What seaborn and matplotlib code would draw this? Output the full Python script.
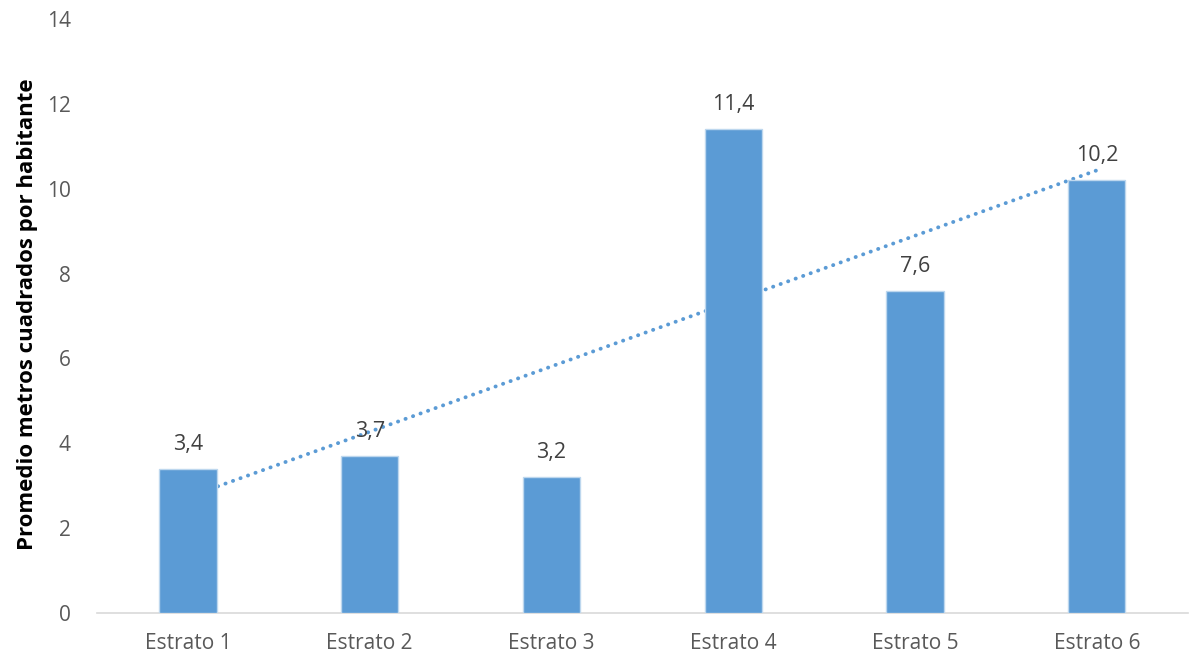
import numpy as np
import pandas as pd
import matplotlib
matplotlib.use("Agg")
import matplotlib.pyplot as plt
import seaborn as sns

categories = ["Estrato 1", "Estrato 2", "Estrato 3", "Estrato 4", "Estrato 5", "Estrato 6"]
values = [3.4, 3.7, 3.2, 11.4, 7.6, 10.2]
y_ticks = [0, 2, 4, 6, 8, 10, 12, 14]
y_label = "Promedio metros cuadrados por habitante"

sns.set_theme(style="white")
plt.rcParams["font.family"] = ["Open Sans", "DejaVu Sans"]

df = pd.DataFrame({"cat": categories, "val": values})

fig = plt.figure(figsize=(11.92, 6.55), dpi=100)
ax = fig.add_axes([0.0814, 0.064, 0.915, 0.907])

bar_color = "#5B9BD5"
sns.barplot(data=df, x="cat", y="val", color=bar_color, width=0.315,
            edgecolor="#BDD7EE", linewidth=1.0, saturation=1, ax=ax, zorder=3)

# linear trendline (least squares)
xs = np.arange(1, len(values) + 1)
coef = np.polyfit(xs, values, 1)
trend = np.polyval(coef, xs)
ax.plot(xs - 1, trend, linestyle=(0, (0.05, 2.0)), color=bar_color, linewidth=2.8,
        dash_capstyle="round", solid_capstyle="round", zorder=2)

for i, v in enumerate(values):
    ax.annotate(f"{v:.1f}".replace(".", ","), (i, v), xytext=(0, 10),
                textcoords="offset points", ha="center", va="bottom",
                fontsize=15.5, color="#404040", zorder=4)

ax.set_ylim(0, 14)
ax.set_xlim(-0.5, len(categories) - 0.5)
ax.set_yticks(y_ticks)
ax.set_yticklabels([str(t) for t in y_ticks])
ax.tick_params(axis="both", length=0, labelsize=15, labelcolor="#595959")
ax.tick_params(axis="y", pad=19)
ax.tick_params(axis="x", pad=14)
ax.set_xlabel("")
ax.set_ylabel(y_label, fontsize=16, fontweight="bold", color="black")
ax.yaxis.set_label_coords(-0.054, 0.503)

for s in ["top", "right", "left"]:
    ax.spines[s].set_visible(False)
ax.spines["bottom"].set_color("#D9D9D9")
ax.spines["bottom"].set_linewidth(1.2)

fig.savefig("out.png", dpi=100)
